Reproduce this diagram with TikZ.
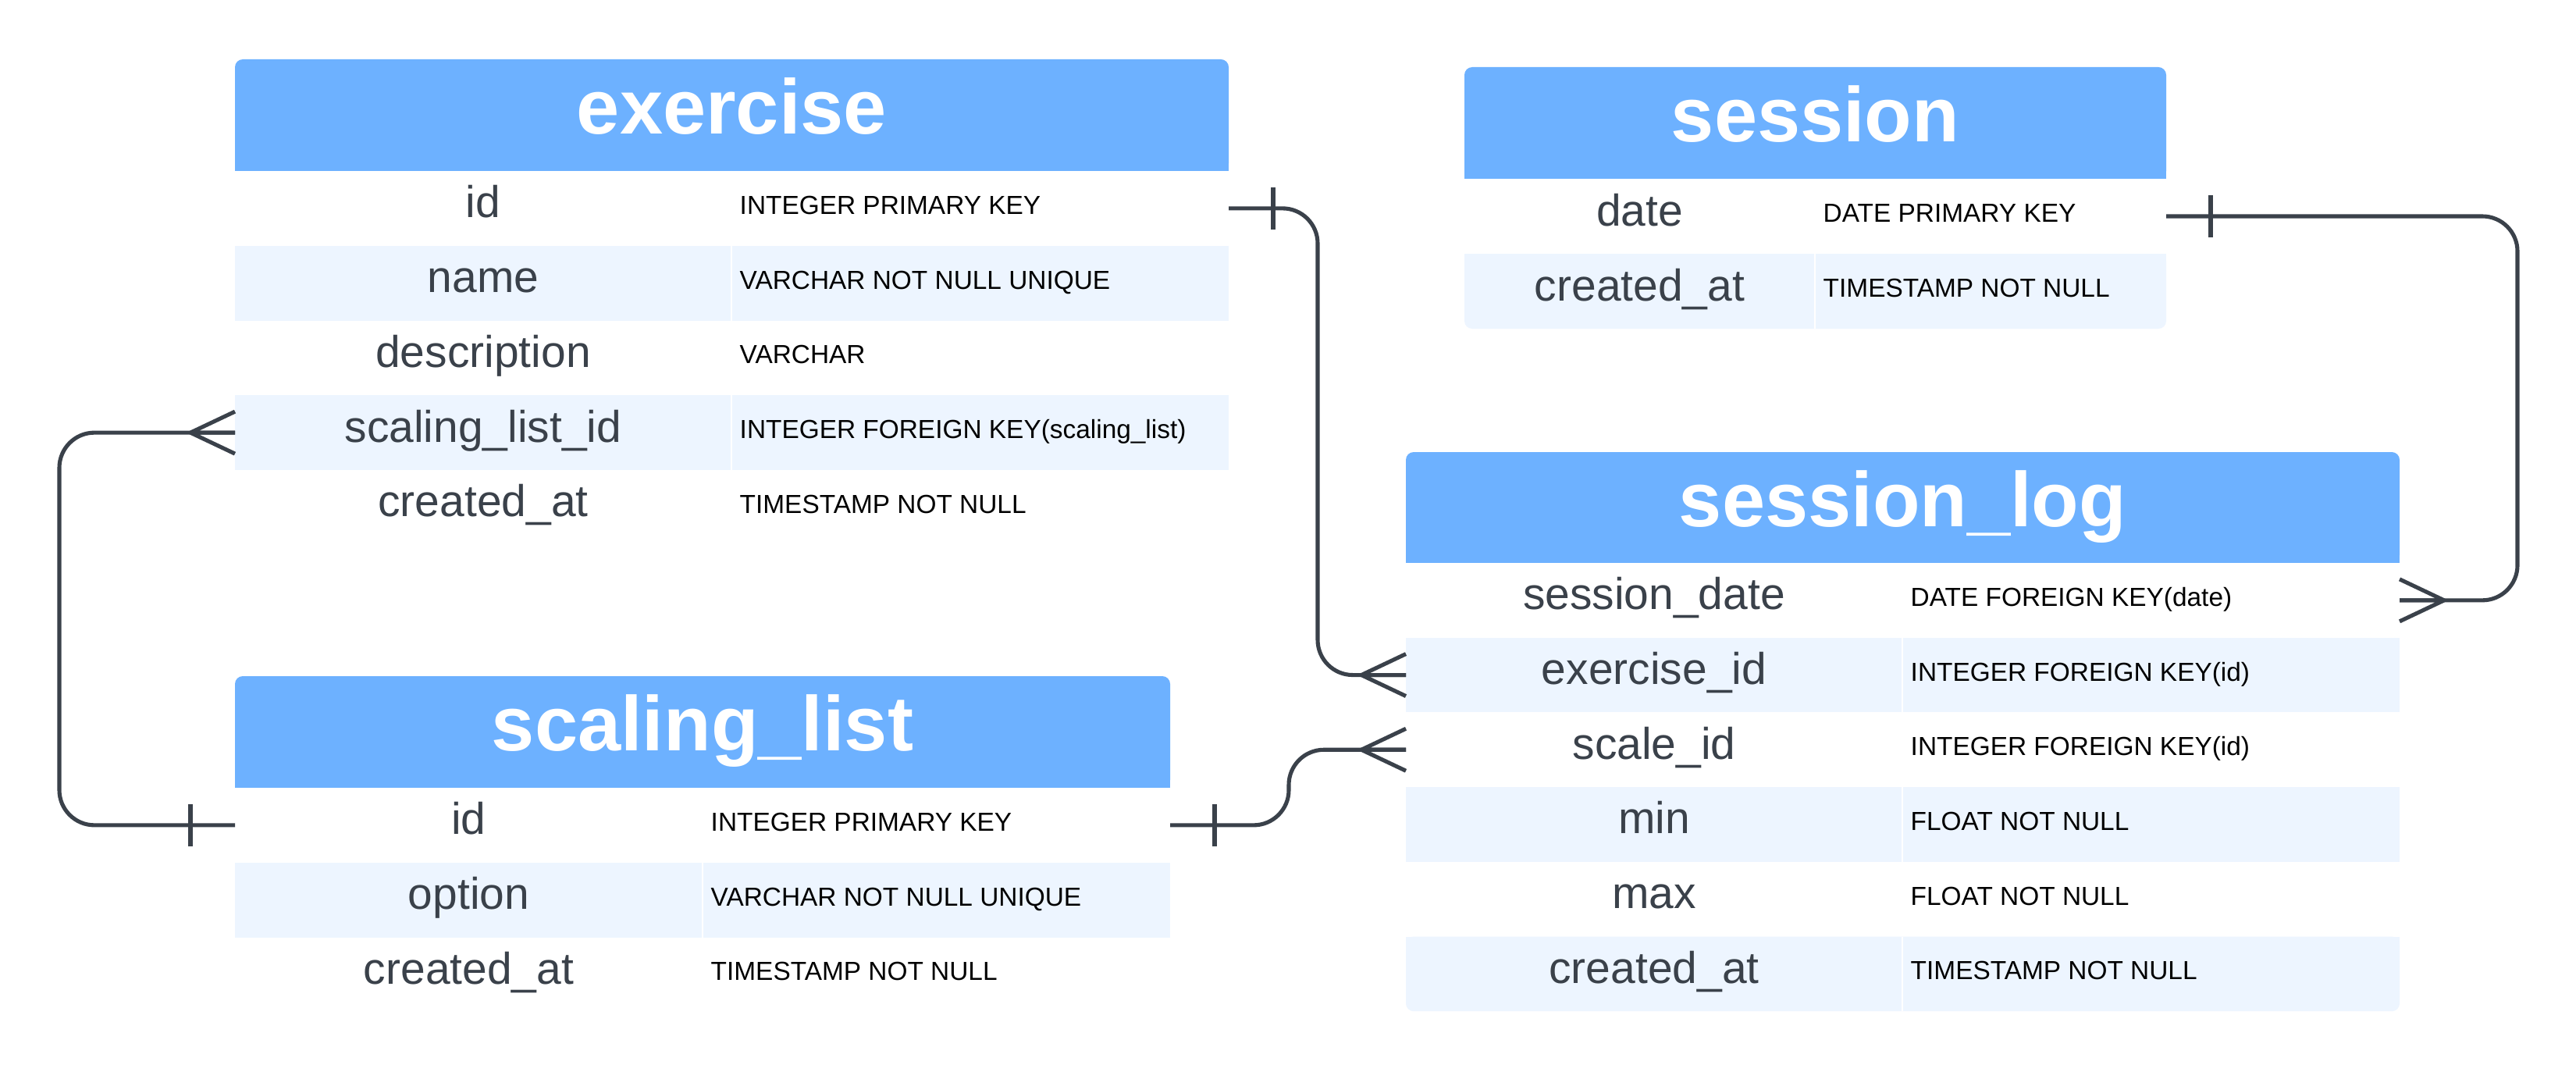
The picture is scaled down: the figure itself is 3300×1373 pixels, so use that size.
\documentclass[tikz,border=0pt]{standalone}
\usepackage{fontspec}
\setmainfont{Liberation Sans}
\usetikzlibrary{calc}
\definecolor{hdr}{HTML}{6DB1FF}
\definecolor{alt}{HTML}{EDF5FF}
\definecolor{ink}{HTML}{3A414A}
\tikzset{
  rowbox/.style={rectangle, inner sep=0pt, outer sep=0pt, anchor=north west},
  hdrbox/.style={rectangle, inner sep=0pt, outer sep=0pt, anchor=north west, fill=hdr, rounded corners=0.1cm},
  titletxt/.style={inner sep=0pt, anchor=base, text=white, font=\fontsize{28.2}{34}\selectfont\bfseries},
  fieldtxt/.style={inner sep=0pt, anchor=base, text=ink, font=\fontsize{16.2}{20}\selectfont},
  typetxt/.style={inner sep=0pt, anchor=base west, text=black, font=\fontsize{9.5}{12}\selectfont},
  conn/.style={draw=ink, line width=1.45pt, line cap=butt, line join=round},
}
% #1 name, #2 x0, #3 divider x, #4 x1, #5 top y, #6 height, #7 fill options, #8 field, #9 type
\newcommand\ERrow[9]{%
  \node[rowbox, #7, minimum width={(#4-#2)*0.01cm}, minimum height={#6*0.01cm}] (#1) at (#2,#5) {};
  \draw[white, line width=0.6pt] (#3,#5) -- (#3,#5+#6);
  \node[fieldtxt] (#1-f) at ({(#2+#3)/2}, {#5+#6/2+12}) {#8};
  \node[typetxt] (#1-t) at (#3+10, {#5+#6/2+7.5}) {#9};
}
% #1 name, #2 x0, #3 x1, #4 top, #5 bottom, #6 title
\newcommand\ERhead[6]{%
  \node[hdrbox, minimum width={(#3-#2)*0.01cm}, minimum height={(#5-#4)*0.01cm}] (#1) at (#2,#4) {};
  \fill[hdr] (#2,#5-20) rectangle (#3,#5);
  \node[titletxt] (#1-title) at ({(#2+#3)/2}, {(#4+#5)/2+24}) {#6};
}
\newcommand\ERbar[2]{\draw[conn] ($(#1)+(#2*57,-27)$) -- ($(#1)+(#2*57,27)$);}
\newcommand\ERcrow[2]{\draw[conn] ($(#1)+(0,-27)$) -- ($(#1)+(#2*57,0)$) -- ($(#1)+(0,27)$) ($(#1)$) -- ($(#1)+(#2*57,0)$);}
\begin{document}
\begin{tikzpicture}[x=0.01cm, y=-0.01cm]
\useasboundingbox[fill=white] (0,0) rectangle (3300,1373);

% ---------- exercise ----------
\ERhead{exh}{301}{1574}{76}{219}{exercise}
\ERrow{exid}{301}{937}{1574}{219}{95.75}{fill=white}{id}{INTEGER PRIMARY KEY}
\ERrow{exname}{301}{937}{1574}{314.75}{95.75}{fill=alt}{name}{VARCHAR NOT NULL UNIQUE}
\ERrow{exdesc}{301}{937}{1574}{410.5}{95.75}{fill=white}{description}{VARCHAR}
\ERrow{exsl}{301}{937}{1574}{506.25}{95.75}{fill=alt}{scaling\_list\_id}{INTEGER FOREIGN KEY(scaling\_list)}
\ERrow{exca}{301}{937}{1574}{602}{95.75}{fill=white}{created\_at}{TIMESTAMP NOT NULL}

% ---------- session ----------
\ERhead{seh}{1876}{2775}{86}{229}{session}
\ERrow{sedate}{1876}{2325}{2775}{229}{96}{fill=white}{date}{DATE PRIMARY KEY}
\fill[alt, rounded corners=0.1cm] (1876,325) rectangle (2775,421);
\fill[alt] (1876,325) rectangle (2775,370);
\ERrow{seca}{1876}{2325}{2775}{325}{96}{}{created\_at}{TIMESTAMP NOT NULL}

% ---------- session_log ----------
\ERhead{lgh}{1801}{3074}{579}{721}{session\_log}
\ERrow{lgdate}{1801}{2437}{3074}{721}{95.7}{fill=white}{session\_date}{DATE FOREIGN KEY(date)}
\ERrow{lgex}{1801}{2437}{3074}{816.7}{95.7}{fill=alt}{exercise\_id}{INTEGER FOREIGN KEY(id)}
\ERrow{lgsc}{1801}{2437}{3074}{912.4}{95.7}{fill=white}{scale\_id}{INTEGER FOREIGN KEY(id)}
\ERrow{lgmin}{1801}{2437}{3074}{1008.1}{95.7}{fill=alt}{min}{FLOAT NOT NULL}
\ERrow{lgmax}{1801}{2437}{3074}{1103.8}{95.7}{fill=white}{max}{FLOAT NOT NULL}
\fill[alt, rounded corners=0.1cm] (1801,1199.5) rectangle (3074,1295.2);
\fill[alt] (1801,1199.5) rectangle (3074,1250);
\ERrow{lgca}{1801}{2437}{3074}{1199.5}{95.7}{}{created\_at}{TIMESTAMP NOT NULL}

% ---------- scaling_list ----------
\ERhead{slh}{301}{1499}{866}{1009}{scaling\_list}
\ERrow{slid}{301}{900}{1499}{1009}{95.75}{fill=white}{id}{INTEGER PRIMARY KEY}
\ERrow{slopt}{301}{900}{1499}{1104.75}{95.75}{fill=alt}{option}{VARCHAR NOT NULL UNIQUE}
\ERrow{slca}{301}{900}{1499}{1200.5}{95.75}{fill=white}{created\_at}{TIMESTAMP NOT NULL}

% ---------- connectors ----------
\coordinate (c1) at (1688,0);
\coordinate (c2) at (3225,0);
\coordinate (c3) at (76,0);
\coordinate (c4) at (1651,0);

\draw[conn, rounded corners=0.45cm] (exid.east) -- (exid.east -| c1) |- (lgex.west);
\ERbar{exid.east}{1}
\ERcrow{lgex.west}{-1}

\draw[conn, rounded corners=0.45cm] (sedate.east) -- (sedate.east -| c2) |- (lgdate.east);
\ERbar{sedate.east}{1}
\ERcrow{lgdate.east}{1}

\draw[conn, rounded corners=0.45cm] (slid.west) -- (slid.west -| c3) |- (exsl.west);
\ERbar{slid.west}{-1}
\ERcrow{exsl.west}{-1}

\draw[conn, rounded corners=0.45cm] (slid.east) -- (slid.east -| c4) |- (lgsc.west);
\ERbar{slid.east}{1}
\ERcrow{lgsc.west}{-1}
\end{tikzpicture}
\end{document}
